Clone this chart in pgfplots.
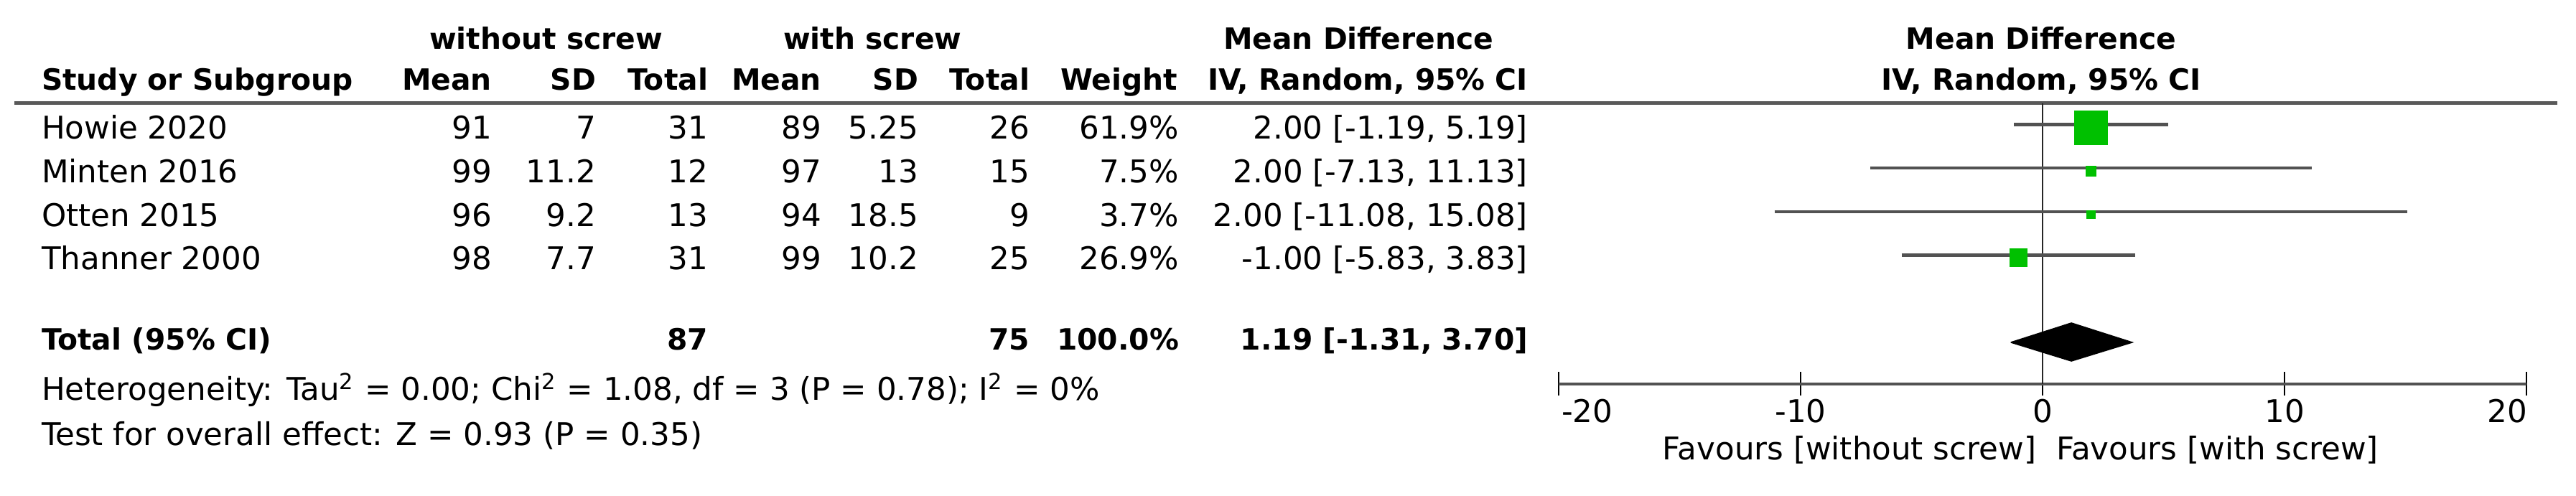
\documentclass[border=0pt]{standalone}
\usepackage{fontspec}
\setmainfont{DejaVu Sans}
\usepackage{pgfplots}
\pgfplotsset{compat=1.18}
\definecolor{revgreen}{RGB}{0,192,0}
\newcommand{\rg}{\fontsize{10.9}{13}\selectfont}
\newcommand{\bd}{\fontsize{10.2}{12}\selectfont\bfseries}
% #1 baseline y (px), #2 name, #3 mean1, #4 sd1, #5 n1, #6 mean2, #7 sd2, #8 n2, #9 weight
\newcommand{\studyrow}[9]{%
  \node[anchor=base west] at (58,#1) {#2};
  \node[anchor=base east] at (685,#1) {#3};
  \node[anchor=base east] at (830,#1) {#4};
  \node[anchor=base east] at (986,#1) {#5};
  \node[anchor=base east] at (1144,#1) {#6};
  \node[anchor=base east] at (1279,#1) {#7};
  \node[anchor=base east] at (1434,#1) {#8};
  \node[anchor=base east] at (1642,#1) {#9};
}
\begin{document}
\begin{tikzpicture}
\begin{scope}[x=0.25pt,y=-0.25pt,every node/.style={inner sep=0pt,outer sep=0pt,font=\rg}]
  % header rule
  \draw[black!65,line width=1.1pt] (20,143.5) -- (3562,143.5);
  % group headers
  \node[anchor=base west,font=\bd] at (598,69) {without screw};
  \node[anchor=base west,font=\bd] at (1091,69) {with screw};
  \node[anchor=base west,font=\bd] at (1704,69) {Mean Difference};
  \node[anchor=base,font=\bd] at (2843,69) {Mean Difference};
  % column headers
  \node[anchor=base west,font=\bd] at (58,126) {Study or Subgroup};
  \node[anchor=base east,font=\bd] at (685,126) {Mean};
  \node[anchor=base east,font=\bd] at (830,126) {SD};
  \node[anchor=base east,font=\bd] at (986,126) {Total};
  \node[anchor=base east,font=\bd] at (1144,126) {Mean};
  \node[anchor=base east,font=\bd] at (1279,126) {SD};
  \node[anchor=base east,font=\bd] at (1434,126) {Total};
  \node[anchor=base east,font=\bd] at (1640,126) {Weight};
  \node[anchor=base east,font=\bd] at (2128,126) {IV, Random, 95\% CI};
  \node[anchor=base,font=\bd] at (2843,126) {IV, Random, 95\% CI};
  % study rows
  \studyrow{194}{Howie 2020}{91}{7}{31}{89}{5.25}{26}{61.9\%}
  \studyrow{254.5}{Minten 2016}{99}{11.2}{12}{97}{13}{15}{7.5\%}
  \studyrow{315.5}{Otten 2015}{96}{9.2}{13}{94}{18.5}{9}{3.7\%}
  \studyrow{376}{Thanner 2000}{98}{7.7}{31}{99}{10.2}{25}{26.9\%}
  \node[anchor=base east] at (2128,194) {2.00 [-1.19, 5.19]};
  \node[anchor=base east] at (2128,254.5) {2.00 [-7.13, 11.13]};
  \node[anchor=base east] at (2128,315.5) {2.00 [-11.08, 15.08]};
  \node[anchor=base east] at (2128,376) {-1.00 [-5.83, 3.83]};
  % total row
  \node[anchor=base west,font=\bd] at (58,488) {Total (95\% CI)};
  \node[anchor=base east,font=\bd] at (986,488) {87};
  \node[anchor=base east,font=\bd] at (1434,488) {75};
  \node[anchor=base east,font=\bd] at (1642,488) {100.0\%};
  \node[anchor=base east,font=\bd] at (2128,488) {1.19 [-1.31, 3.70]};
  % statistics
  \node[anchor=base west] at (58,558) {Heterogeneity: Tau\textsuperscript{2} = 0.00; Chi\textsuperscript{2} = 1.08, df = 3 (P = 0.78); I\textsuperscript{2} = 0\%};
  \node[anchor=base west] at (58,621) {Test for overall effect: Z = 0.93 (P = 0.35)};
  % tick labels
  \node[anchor=base west] at (2175,589) {-20};
  \node[anchor=base] at (2508,589) {-10};
  \node[anchor=base] at (2845,589) {0};
  \node[anchor=base] at (3182,589) {10};
  \node[anchor=base east] at (3520,589) {20};
  \node[anchor=base east] at (2836,641) {Favours [without screw]};
  \node[anchor=base west] at (2864,641) {Favours [with screw]};
\end{scope}
\begin{axis}[
  at={(542.75pt,-133.75pt)}, anchor=south west,
  scale only axis, width=337pt, height=97.75pt,
  xmin=-20, xmax=20, ymin=-535, ymax=-144,
  axis x line*=bottom, axis y line=none,
  x axis line style={line width=1.2pt,draw=black!68},
  xtick={-20,-10,0,10,20}, xticklabels={,,},
  major tick length=8.25pt, tick align=center,
  xtick style={line width=0.55pt,black},
  clip=false,
]
  % line of no effect
  \addplot[black!85,line width=0.7pt] coordinates {(0,-144) (0,-535)};
  % confidence intervals
  \addplot[black!68,line width=1.1pt] coordinates {(-1.19,-173.5) (5.19,-173.5)};
  \addplot[black!68,line width=1.1pt] coordinates {(-7.13,-234) (11.13,-234)};
  \addplot[black!68,line width=1.1pt] coordinates {(-11.08,-295) (15.08,-295)};
  \addplot[black!68,line width=1.1pt] coordinates {(-5.83,-355.5) (3.83,-355.5)};
  % weight squares
  \addplot[only marks,mark=square*,mark size=5.75pt,mark options={draw=revgreen,fill=revgreen}] coordinates {(2.00,-178)};
  \addplot[only marks,mark=square*,mark size=1.75pt,mark options={draw=revgreen,fill=revgreen}] coordinates {(2.00,-238.5)};
  \addplot[only marks,mark=square*,mark size=1.35pt,mark options={draw=revgreen,fill=revgreen}] coordinates {(2.00,-299)};
  \addplot[only marks,mark=square*,mark size=3pt,mark options={draw=revgreen,fill=revgreen}] coordinates {(-1.00,-359)};
  % pooled estimate diamond
  \addplot[draw=black,fill=black] coordinates {(-1.31,-477) (1.19,-450) (3.70,-477) (1.19,-503) (-1.31,-477)};
\end{axis}
\pgfresetboundingbox
\path[use as bounding box] (0pt,0pt) rectangle (897pt,-172.75pt);
\end{tikzpicture}
\end{document}
